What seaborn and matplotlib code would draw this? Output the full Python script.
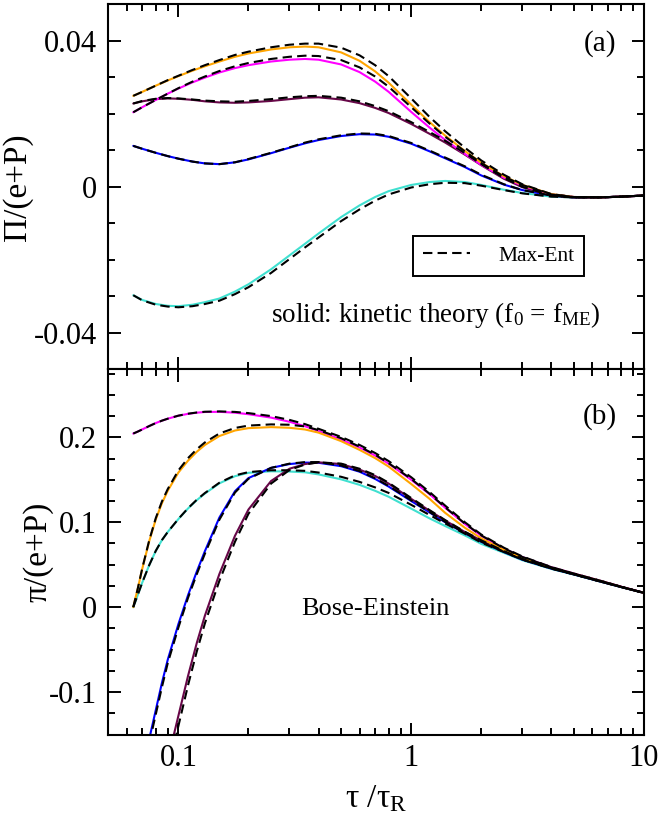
import matplotlib

matplotlib.use("Agg")

import matplotlib.pyplot as plt
from matplotlib.lines import Line2D
from matplotlib.ticker import FuncFormatter, LogLocator, MultipleLocator, NullFormatter
import numpy as np
import pandas as pd
import seaborn as sns

# ---- data ------------------------------------------------------------------
# panel (a): bulk pressure  Pi/(e+P)
TAU_A = [0.064, 0.07, 0.08, 0.09, 0.1, 0.115, 0.13, 0.15, 0.175, 0.2, 0.25,
         0.3, 0.35, 0.4, 0.5, 0.6, 0.7, 0.8, 1.0, 1.2, 1.4, 1.7, 2.0, 2.5,
         3.0, 4.0, 5.0, 6.5, 8.0, 10.0]

BULK_ORANGE = [0.0249, 0.0260, 0.0277, 0.0291, 0.0303, 0.0318, 0.0330, 0.0343,
               0.0356, 0.0365, 0.0376, 0.0382, 0.0384, 0.0382, 0.0368, 0.0345,
               0.0316, 0.0285, 0.0225, 0.0177, 0.0140, 0.0098, 0.0066, 0.0029,
               0.0005, -0.0020, -0.0028, -0.0029, -0.0027, -0.0024]
BULK_MAGENTA = [0.0204, 0.0218, 0.0238, 0.0255, 0.0269, 0.0286, 0.0299, 0.0313,
                0.0325, 0.0333, 0.0343, 0.0348, 0.0350, 0.0348, 0.0335, 0.0314,
                0.0288, 0.0260, 0.0205, 0.0162, 0.0128, 0.0090, 0.0060, 0.0025,
                0.0003, -0.0021, -0.0028, -0.0029, -0.0027, -0.0024]
BULK_MAROON = [0.0228, 0.0234, 0.0240, 0.0242, 0.0241, 0.0238, 0.0234, 0.0231,
               0.0230, 0.0231, 0.0235, 0.0240, 0.0244, 0.0245, 0.0239, 0.0229,
               0.0216, 0.0202, 0.0172, 0.0145, 0.0121, 0.0088, 0.0059, 0.0022,
               -0.0001, -0.0024, -0.0029, -0.0029, -0.0027, -0.0024]
BULK_BLUE = [0.0112, 0.0104, 0.0093, 0.0084, 0.0077, 0.0069, 0.0064, 0.0062,
             0.0067, 0.0075, 0.0092, 0.0107, 0.0119, 0.0128, 0.0139, 0.0144,
             0.0143, 0.0137, 0.0118, 0.0097, 0.0078, 0.0054, 0.0031, 0.0006,
             -0.0009, -0.0024, -0.0029, -0.0029, -0.0027, -0.0024]
BULK_CYAN = [-0.0297, -0.0310, -0.0321, -0.0326, -0.0327, -0.0323, -0.0316,
             -0.0306, -0.0287, -0.0267, -0.0226, -0.0188, -0.0156, -0.0128,
             -0.0083, -0.0051, -0.0028, -0.0012, 0.0005, 0.0013, 0.0016, 0.0013,
             0.0005, -0.0008, -0.0017, -0.0027, -0.0029, -0.0029, -0.0027, -0.0024]

BULK_ME_ORANGE = [0.0249, 0.0260, 0.0277, 0.0292, 0.0304, 0.0320, 0.0333, 0.0347,
                  0.0361, 0.0370, 0.0382, 0.0389, 0.0392, 0.0392, 0.0381, 0.0360,
                  0.0333, 0.0303, 0.0242, 0.0191, 0.0152, 0.0107, 0.0072, 0.0033,
                  0.0007, -0.0020, -0.0028, -0.0029, -0.0027, -0.0024]
BULK_ME_MAGENTA = [0.0204, 0.0218, 0.0238, 0.0255, 0.0270, 0.0288, 0.0302, 0.0317,
                   0.0330, 0.0339, 0.0350, 0.0356, 0.0359, 0.0358, 0.0347, 0.0327,
                   0.0302, 0.0274, 0.0218, 0.0173, 0.0137, 0.0097, 0.0065, 0.0028,
                   0.0005, -0.0021, -0.0028, -0.0029, -0.0027, -0.0024]
BULK_ME_MAROON = [0.0228, 0.0235, 0.0241, 0.0243, 0.0242, 0.0239, 0.0236, 0.0234,
                  0.0233, 0.0235, 0.0240, 0.0245, 0.0248, 0.0249, 0.0244, 0.0234,
                  0.0221, 0.0207, 0.0177, 0.0150, 0.0126, 0.0092, 0.0062, 0.0024,
                  0.0000, -0.0024, -0.0029, -0.0029, -0.0027, -0.0024]
BULK_ME_BLUE = [0.0112, 0.0104, 0.0093, 0.0084, 0.0077, 0.0069, 0.0064, 0.0062,
                0.0067, 0.0076, 0.0093, 0.0108, 0.0121, 0.0130, 0.0141, 0.0146,
                0.0145, 0.0139, 0.0120, 0.0099, 0.0080, 0.0056, 0.0033, 0.0007,
                -0.0009, -0.0024, -0.0029, -0.0029, -0.0027, -0.0024]
BULK_ME_CYAN = [-0.0297, -0.0311, -0.0323, -0.0328, -0.0330, -0.0327, -0.0321,
                -0.0312, -0.0294, -0.0275, -0.0236, -0.0198, -0.0166, -0.0139,
                -0.0094, -0.0062, -0.0038, -0.0021, -0.0002, 0.0007, 0.0011,
                0.0010, 0.0003, -0.0009, -0.0018, -0.0027, -0.0029, -0.0029,
                -0.0027, -0.0024]

# panel (b): shear stress  pi/(e+P)
TAU_B = [0.064, 0.067, 0.07, 0.075, 0.08, 0.085, 0.09, 0.1, 0.11, 0.12, 0.13,
         0.15, 0.175, 0.2, 0.25, 0.3, 0.35, 0.4, 0.5, 0.6, 0.7, 0.8, 1.0, 1.2,
         1.4, 1.7, 2.0, 2.5, 3.0, 4.0, 5.0, 6.5, 8.0, 10.0]
NAN = float("nan")

SHEAR_MAGENTA = [0.2044, 0.2068, 0.2093, 0.2133, 0.2168, 0.2196, 0.2219, 0.2254,
                 0.2276, 0.2290, 0.2298, 0.2300, 0.2290, 0.2272, 0.2232, 0.2183,
                 0.2130, 0.2074, 0.1975, 0.1880, 0.1785, 0.1690, 0.1500, 0.1330,
                 0.1170, 0.0980, 0.0840, 0.0690, 0.0590, 0.0470, 0.0395, 0.0310,
                 0.0240, 0.0169]
SHEAR_ORANGE = [0.0, 0.0225, 0.0455, 0.0780, 0.1035, 0.1225, 0.1370, 0.1585,
                0.1725, 0.1830, 0.1910, 0.2015, 0.2080, 0.2108, 0.2120, 0.2112,
                0.2092, 0.2055, 0.1955, 0.1852, 0.1755, 0.1655, 0.1450, 0.1275,
                0.1110, 0.0935, 0.0810, 0.0675, 0.0580, 0.0465, 0.0392, 0.0308,
                0.0238, 0.0168]
SHEAR_CYAN = [0.0, 0.0148, 0.0292, 0.0497, 0.0664, 0.0790, 0.0885, 0.1037,
              0.1162, 0.1260, 0.1338, 0.1458, 0.1542, 0.1582, 0.1600, 0.1597,
              0.1588, 0.1563, 0.1505, 0.1440, 0.1370, 0.1300, 0.1160, 0.1045,
              0.0955, 0.0845, 0.0745, 0.0640, 0.0553, 0.0450, 0.0383, 0.0300,
              0.0235, 0.0167]
SHEAR_BLUE = [NAN, NAN, NAN, -0.155, -0.121, -0.089, -0.062, -0.020, 0.014,
              0.042, 0.066, 0.1055, 0.1365, 0.1520, 0.1640, 0.1685, 0.1702,
              0.1700, 0.1660, 0.1595, 0.1510, 0.1420, 0.1250, 0.1115, 0.1000,
              0.0870, 0.0770, 0.0650, 0.0560, 0.0455, 0.0386, 0.0302, 0.0236,
              0.0168]
SHEAR_MAROON = [NAN, NAN, NAN, NAN, NAN, NAN, -0.180, -0.128, -0.081, -0.042,
                -0.010, 0.039, 0.084, 0.115, 0.1485, 0.1630, 0.1685, 0.1705,
                0.1685, 0.1620, 0.1545, 0.1455, 0.1275, 0.1135, 0.1020, 0.0885,
                0.0785, 0.0660, 0.0568, 0.0460, 0.0388, 0.0303, 0.0237, 0.0168]

SHEAR_ME_MAGENTA = [0.2044, 0.2068, 0.2093, 0.2133, 0.2168, 0.2196, 0.2219,
                    0.2255, 0.2278, 0.2292, 0.2301, 0.2305, 0.2299, 0.2285,
                    0.2250, 0.2205, 0.2155, 0.2100, 0.2005, 0.1910, 0.1815,
                    0.1720, 0.1530, 0.1355, 0.1195, 0.1000, 0.0855, 0.0700,
                    0.0597, 0.0472, 0.0396, 0.0311, 0.0240, 0.0169]
SHEAR_ME_ORANGE = [0.0, 0.0225, 0.0460, 0.0790, 0.1050, 0.1245, 0.1390, 0.1610,
                   0.1755, 0.1860, 0.1940, 0.2045, 0.2110, 0.2138, 0.2152, 0.2148,
                   0.2128, 0.2085, 0.1990, 0.1890, 0.1795, 0.1695, 0.1510,
                   0.1335, 0.1175, 0.0985, 0.0845, 0.0693, 0.0592, 0.0470,
                   0.0395, 0.0310, 0.0239, 0.0168]
SHEAR_ME_CYAN = [0.0, 0.0148, 0.0292, 0.0497, 0.0664, 0.0790, 0.0885, 0.1039,
                 0.1165, 0.1265, 0.1344, 0.1465, 0.1552, 0.1590, 0.1612, 0.1612,
                 0.1605, 0.1585, 0.1535, 0.1475, 0.1410, 0.1345, 0.1205, 0.1085,
                 0.0985, 0.0865, 0.0760, 0.0650, 0.0560, 0.0453, 0.0385, 0.0301,
                 0.0236, 0.0167]
SHEAR_ME_BLUE = [NAN, NAN, NAN, -0.160, -0.126, -0.094, -0.066, -0.024, 0.011,
                 0.039, 0.063, 0.1030, 0.1350, 0.1512, 0.1640, 0.1690, 0.1708,
                 0.1708, 0.1668, 0.1602, 0.1518, 0.1428, 0.1258, 0.1120, 0.1004,
                 0.0873, 0.0772, 0.0651, 0.0561, 0.0456, 0.0386, 0.0302, 0.0236,
                 0.0168]
SHEAR_ME_MAROON = [NAN, NAN, NAN, NAN, NAN, NAN, -0.192, -0.140, -0.092, -0.052,
                   -0.019, 0.031, 0.077, 0.110, 0.1455, 0.1615, 0.1680, 0.1705,
                   0.1690, 0.1630, 0.1555, 0.1465, 0.1285, 0.1142, 0.1025,
                   0.0888, 0.0787, 0.0661, 0.0569, 0.0460, 0.0388, 0.0303,
                   0.0237, 0.0168]

ORANGE = "#FFA500"
MAGENTA = "#FF00FF"
MAROON = "#670748"
BLUE = "#0000FF"
CYAN = "#40E0D0"

BULK_SERIES = [
    (BULK_CYAN, BULK_ME_CYAN, CYAN),
    (BULK_BLUE, BULK_ME_BLUE, BLUE),
    (BULK_MAROON, BULK_ME_MAROON, MAROON),
    (BULK_MAGENTA, BULK_ME_MAGENTA, MAGENTA),
    (BULK_ORANGE, BULK_ME_ORANGE, ORANGE),
]
SHEAR_SERIES = [
    (SHEAR_CYAN, SHEAR_ME_CYAN, CYAN),
    (SHEAR_BLUE, SHEAR_ME_BLUE, BLUE),
    (SHEAR_MAROON, SHEAR_ME_MAROON, MAROON),
    (SHEAR_MAGENTA, SHEAR_ME_MAGENTA, MAGENTA),
    (SHEAR_ORANGE, SHEAR_ME_ORANGE, ORANGE),
]

# ---- style ------------------------------------------------------------------
sns.set_theme(style="ticks")
plt.rcParams.update(
    {
        "font.family": ["Liberation Serif", "DejaVu Serif"],
        "mathtext.fontset": "custom",
        "mathtext.rm": "Liberation Serif",
        "mathtext.it": "Liberation Serif:italic",
        "axes.unicode_minus": False,
        "axes.linewidth": 1.5,
        "axes.edgecolor": "black",
        "xtick.color": "black",
        "ytick.color": "black",
        "text.color": "black",
        "axes.labelcolor": "black",
        "figure.facecolor": "white",
        "axes.facecolor": "white",
    }
)

LW = 1.5
DASH = (4.5, 2.5)


def draw(ax, tau, series):
    # solid: kinetic theory; dashed black: Max-Ent, drawn on top
    for solid, _, color in series:
        kin = pd.DataFrame({"tau": tau, "val": solid}).dropna()
        sns.lineplot(x=kin["tau"].to_numpy(), y=kin["val"].to_numpy(), ax=ax,
                     color=color, linewidth=LW, zorder=2)
    for _, maxent, _ in series:
        me = pd.DataFrame({"tau": tau, "val": maxent}).dropna()
        sns.lineplot(x=me["tau"].to_numpy(), y=me["val"].to_numpy(), ax=ax,
                     color="black", linewidth=LW, zorder=3)
        ax.lines[-1].set_dashes(DASH)


def style_axes(ax):
    ax.set_xscale("log")
    ax.set_xlim(0.05, 10)
    ax.xaxis.set_major_locator(LogLocator(base=10, numticks=10))
    ax.xaxis.set_minor_locator(LogLocator(base=10, subs=np.arange(2, 10), numticks=20))
    ax.xaxis.set_minor_formatter(NullFormatter())
    ax.xaxis.set_major_formatter(FuncFormatter(lambda v, _: f"{v:g}"))
    ax.yaxis.set_major_formatter(FuncFormatter(lambda v, _: f"{v:g}"))
    ax.tick_params(which="both", direction="in", top=True, right=True,
                   width=1.4, labelsize=22, colors="black")
    ax.tick_params(which="major", length=9.0)
    ax.tick_params(which="minor", length=4.8)
    ax.tick_params(axis="y", pad=8)
    ax.tick_params(axis="x", pad=7)
    for spine in ax.spines.values():
        spine.set_visible(True)
        spine.set_linewidth(1.5)
    ax.set_xlabel("")
    ax.set_ylabel("")


fig, (ax_a, ax_b) = plt.subplots(2, 1, sharex=True, figsize=(6.64, 8.22), dpi=100)
fig.subplots_adjust(left=0.1631, right=0.9699, top=0.9949, bottom=0.1064, hspace=0)

draw(ax_a, TAU_A, BULK_SERIES)
draw(ax_b, TAU_B, SHEAR_SERIES)
style_axes(ax_a)
style_axes(ax_b)

ax_a.set_ylim(-0.05, 0.05)
ax_a.yaxis.set_major_locator(MultipleLocator(0.04))
ax_a.yaxis.set_minor_locator(MultipleLocator(0.01))
ax_b.set_ylim(-0.15, 0.28)
ax_b.yaxis.set_major_locator(MultipleLocator(0.1))
ax_b.yaxis.set_minor_locator(MultipleLocator(0.025))
ax_a.tick_params(axis="x", labelbottom=False)

ax_a.set_ylabel("Π/(e+P)", fontsize=24)
ax_a.yaxis.label.set_ha("center")
ax_a.yaxis.label.set_va("center")
ax_a.yaxis.set_label_coords(-0.170, 0.5)
ax_b.set_ylabel("π/(e+P)", fontsize=24)
ax_b.yaxis.label.set_ha("center")
ax_b.yaxis.label.set_va("center")
ax_b.yaxis.set_label_coords(-0.131, 0.5)
ax_b.set_xlabel(r"τ /τ$_{\rm R}$", fontsize=24)
ax_b.xaxis.label.set_va("center")
ax_b.xaxis.set_label_coords(0.5, -0.175)

ax_a.text(0.949, 0.893, "(a)", transform=ax_a.transAxes, ha="right", va="center",
          fontsize=21)
ax_b.text(0.949, 0.870, "(b)", transform=ax_b.transAxes, ha="right", va="center",
          fontsize=21)
ax_a.text(0.303, 0.150, r"solid: kinetic theory (f$_0$ = f$_{\rm ME}$)",
          transform=ax_a.transAxes, ha="left", va="center", fontsize=19.5)
ax_b.text(0.498, 0.345, "Bose-Einstein", transform=ax_b.transAxes, ha="center",
          va="center", fontsize=19)

handle = Line2D([], [], color="black", linewidth=LW, dashes=DASH)
legend = ax_a.legend(
    handles=[handle],
    labels=["Max-Ent"],
    loc="upper left",
    bbox_to_anchor=(0.569, 0.365),
    borderaxespad=0,
    fontsize=15.5,
    frameon=True,
    fancybox=False,
    framealpha=1,
    edgecolor="black",
    handlelength=2.2,
    handletextpad=1.3,
    borderpad=0.45,
)
legend.get_frame().set_linewidth(1.4)

fig.savefig("out.png", dpi=100)
